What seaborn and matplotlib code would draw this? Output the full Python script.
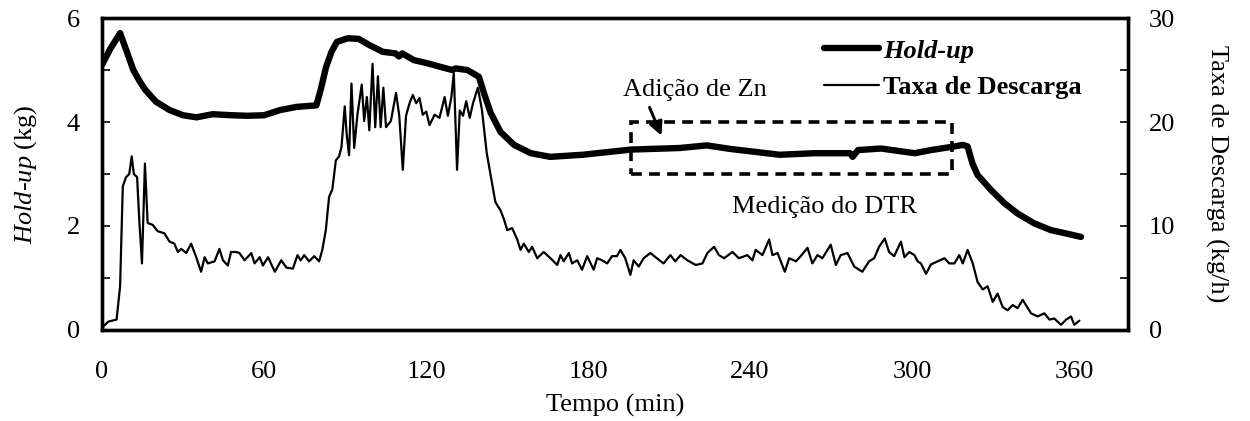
import matplotlib
matplotlib.use('Agg')
from matplotlib import pyplot as plt
from matplotlib.patches import Rectangle
from matplotlib.ticker import MultipleLocator
import seaborn as sns

# Hold-up (kg), eixo esquerdo
t_hold = [0, 3, 6.7, 9, 11.6, 14, 16, 20, 25, 30, 35, 41, 48, 54, 60, 66, 72, 79.4,
          81, 83, 85, 87, 91, 95, 99, 104, 108.7, 110, 111.2, 115.5, 120.5, 125.4,
          129.7, 131, 135.3, 139.6, 141.5, 144, 147.6, 152.6, 158.8, 166, 178, 196,
          214, 224, 233, 251, 264, 277, 278, 280, 288.5, 301, 307, 315.7, 318.8,
          320.6, 322.4, 324.3, 329.3, 334.2, 339.1, 345.3, 351.5, 357.6, 362.6]
holdup = [5.1, 5.4, 5.71, 5.38, 5.0, 4.78, 4.62, 4.39, 4.23, 4.13, 4.09, 4.15, 4.13,
          4.12, 4.13, 4.23, 4.29, 4.32, 4.62, 5.06, 5.35, 5.54, 5.61, 5.60, 5.48,
          5.35, 5.32, 5.26, 5.32, 5.19, 5.13, 5.06, 5.0, 5.03, 5.0, 4.87, 4.55, 4.17,
          3.81, 3.56, 3.40, 3.33, 3.37, 3.47, 3.5, 3.55, 3.48, 3.37, 3.40, 3.40,
          3.33, 3.46, 3.49, 3.40, 3.46, 3.53, 3.56, 3.53, 3.2, 2.98, 2.69, 2.44,
          2.24, 2.05, 1.92, 1.85, 1.79]

# Taxa de descarga (kg/h), eixo direito
t_taxa = [0, 2.3, 5.4, 6.7, 7.7, 8.9, 10.1, 11, 11.8, 13, 13.8, 14.8, 15.9, 16.9,
          18.8, 20.6, 23.1, 25, 26.8, 28.1, 29.3, 31.2, 33, 34.9, 36.7, 38, 39.2,
          41.7, 43.5, 44.8, 46.6, 47.8, 49.7, 50.9, 52.8, 55.3, 56.5, 58.4, 59.6,
          61.5, 64, 66.4, 68.3, 70.7, 72.4, 73.6, 74.9, 76.7, 78.6, 80.4, 81.6,
          82.9, 84.1, 85.3, 86.6, 87.8, 88.7, 89.9, 90.6, 91.5, 92.4, 93.4, 94.6,
          96.2, 97.1, 98.1, 99, 100.2, 101.2, 102.2, 103.2, 104.2, 105.2, 107,
          108.9, 110.1, 111.4, 112.6, 113.9, 115.1, 116.4, 117.6, 118.8, 120.1,
          121.3, 123.2, 125, 126.9, 128.1, 129.4, 130.3, 131.5, 132.5, 133.7,
          134.9, 136.2, 137.4, 139.2, 140.7, 142.5, 144, 145.7, 147.6, 148.8,
          150.1, 151.9, 153.8, 155, 156.2, 158.1, 159.3, 161.2, 163.6, 166.1,
          168.6, 169.8, 171, 172.9, 174.1, 176, 177.8, 179.7, 182.1, 183.4, 185.2,
          187.1, 188.9, 190.7, 192, 193.8, 195.7, 196.9, 198.8, 200.6, 203.1,
          205.5, 208, 210.5, 212.3, 214.3, 216.8, 219.9, 222.4, 224.2, 226.7,
          228.5, 230.4, 233.5, 235.9, 239, 240.9, 242.1, 244.6, 247.1, 248.3,
          250.2, 252.9, 254.5, 257, 258.8, 261.3, 263.1, 265, 266.8, 268.7, 269.9,
          271.8, 273.6, 276.1, 278.6, 281.6, 284.1, 286, 287.8, 289.9, 291.5,
          293.4, 295.9, 297.2, 299, 300.9, 302.1, 303.3, 305.2, 307, 309.5, 312,
          313.8, 315.7, 317.5, 318.8, 320.6, 322.5, 324.3, 326.2, 328, 329.9,
          331.7, 333.6, 335.4, 337.3, 339.1, 341, 342.2, 344.1, 346.5, 349, 350.9,
          352.7, 355.2, 357.1, 358.9, 360.1, 362]
taxa = [0.2, 0.8, 1.0, 4.2, 13.8, 14.7, 15.0, 16.7, 15.0, 14.7, 10.6, 6.4, 16.0,
        10.3, 10.1, 9.5, 9.3, 8.5, 8.3, 7.5, 7.8, 7.4, 8.3, 7.0, 5.6, 7.0, 6.4, 6.6,
        7.8, 6.7, 6.2, 7.5, 7.5, 7.4, 6.7, 7.4, 6.4, 7.0, 6.2, 7.0, 5.6, 6.7, 6.0,
        5.9, 7.2, 6.7, 7.2, 6.6, 7.1, 6.6, 7.7, 9.6, 12.8, 13.5, 16.3, 16.7, 17.6,
        21.5, 18.9, 16.8, 23.7, 17.5, 20.7, 23.6, 20.1, 22.4, 19.2, 25.6, 19.5,
        24.4, 19.5, 23.3, 19.5, 20.1, 22.8, 20.6, 15.4, 20.6, 21.8, 22.6, 21.8,
        22.3, 20.7, 21.0, 19.7, 20.7, 20.4, 22.4, 20.6, 22.4, 24.7, 15.4, 21.1,
        20.6, 22.0, 20.4, 21.8, 23.3, 21.2, 17.0, 14.8, 12.3, 11.5, 10.7, 9.6, 9.8,
        8.7, 7.7, 8.3, 7.5, 8.0, 6.9, 7.5, 6.9, 6.25, 7.2, 6.6, 7.4, 6.4, 6.7, 5.8,
        7.1, 5.8, 6.9, 6.7, 6.4, 7.1, 7.1, 7.7, 6.9, 5.3, 6.7, 6.1, 6.9, 7.4, 6.9,
        6.4, 7.2, 6.6, 7.2, 6.7, 6.25, 6.4, 7.4, 8.0, 7.2, 6.9, 7.5, 6.9, 7.2, 6.7,
        7.7, 7.2, 8.7, 7.2, 7.4, 5.6, 6.9, 6.6, 7.1, 7.9, 6.4, 7.2, 6.9, 7.7, 8.2,
        6.25, 7.2, 7.4, 6.1, 5.6, 6.6, 6.9, 8.0, 8.8, 7.5, 7.1, 8.5, 7.0, 7.5, 7.2,
        6.6, 6.4, 5.4, 6.3, 6.6, 6.9, 6.4, 6.4, 7.2, 6.4, 7.7, 6.4, 4.6, 3.9, 4.2,
        2.7, 3.5, 2.2, 1.9, 2.4, 2.1, 2.9, 2.4, 1.6, 1.3, 1.6, 1.0, 1.1, 0.5, 1.0,
        1.3, 0.5, 0.9]

x_ticks = [0, 60, 120, 180, 240, 300, 360]
y_ticks = [0, 2, 4, 6]
y2_ticks = [0, 10, 20, 30]

sns.set_style('white')
plt.rcParams['font.family'] = ['Liberation Serif', 'DejaVu Serif']
plt.rcParams['text.color'] = 'black'
plt.rcParams['axes.labelcolor'] = 'black'
plt.rcParams['mathtext.fontset'] = 'custom'
plt.rcParams['mathtext.it'] = 'Liberation Serif:italic'
plt.rcParams['mathtext.rm'] = 'Liberation Serif'

fs = 19
fig = plt.figure(figsize=(12.5, 4.21), dpi=100)
ax = fig.add_axes([0.0816, 0.2162, 0.8208, 0.741])
ax2 = ax.twinx()

sns.lineplot(x=t_hold, y=holdup, ax=ax, color='black', linewidth=4.6, label='Hold-up')
sns.lineplot(x=t_taxa, y=taxa, ax=ax2, color='black', linewidth=1.6, label='Taxa de Descarga')

ax.set_xlim(0, 380)
ax.set_ylim(0, 6)
ax2.set_ylim(0, 30)
ax.set_xticks(x_ticks)
ax.set_yticks(y_ticks)
ax2.set_yticks(y2_ticks)
ax.xaxis.set_minor_locator(MultipleLocator(30))
ax.yaxis.set_minor_locator(MultipleLocator(1))
ax2.yaxis.set_minor_locator(MultipleLocator(5))

for a in (ax, ax2):
    for s in a.spines.values():
        s.set_linewidth(2.4)
        s.set_color('black')
    a.tick_params(which='both', direction='in', length=6, width=1.2, labelsize=fs,
                  colors='black')
ax.tick_params(axis='y', pad=16)
ax2.tick_params(axis='y', pad=15)
ax.tick_params(axis='x', pad=22)

ax.set_xlabel('Tempo (min)', fontsize=fs, labelpad=8)
ax.set_ylabel('$\\mathit{Hold}$-$\\mathit{up}$ (kg)', fontsize=fs, labelpad=20)
ax2.set_ylabel('Taxa de Descarga (kg/h)', fontsize=fs, rotation=270, labelpad=38)

# caixa tracejada e anotacoes
ax.add_patch(Rectangle((196, 3), 119, 1, fill=False, linestyle=(0, (3, 2)),
                       linewidth=2.6, edgecolor='black', zorder=5))
ax.annotate('', xy=(207.6, 3.69), xytext=(202.4, 4.33),
            arrowprops=dict(arrowstyle='-|>', color='black', lw=2.2, mutation_scale=20))
ax.text(219.5, 4.62, 'Adição de Zn', fontsize=fs, ha='center', va='center')
ax.text(267.7, 2.37, 'Medição do DTR', fontsize=fs, ha='center', va='center')

h1, l1 = ax.get_legend_handles_labels()
h2, l2 = ax2.get_legend_handles_labels()
ax2.get_legend().remove()
ax.get_legend().remove()
leg = ax2.legend(h1 + h2, l1 + l2, loc='upper left', bbox_to_anchor=(0.659, 0.907),
                 bbox_transform=fig.transFigure, frameon=False, fontsize=fs,
                 handlelength=2.1, handletextpad=0.15, labelspacing=0.5,
                 borderaxespad=0, borderpad=0)
for txt in leg.get_texts():
    txt.set_fontweight('bold')
leg.get_texts()[0].set_fontstyle('italic')
leg.set_zorder(10)

fig.savefig('out.png', dpi=100)
